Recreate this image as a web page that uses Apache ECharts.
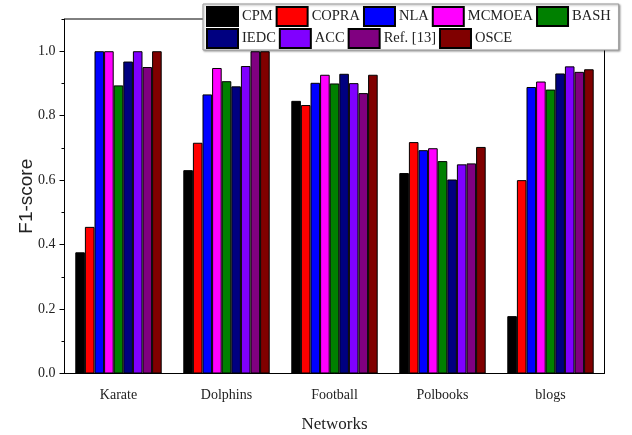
<!DOCTYPE html>
<html>
<head>
<meta charset="utf-8">
<script src="https://cdn.jsdelivr.net/npm/echarts@6/dist/echarts.min.js"></script>
<style>
  html, body { margin: 0; padding: 0; background: #fff; }
  #chart { width: 632px; height: 435px; }
</style>
</head>
<body>
<div id="chart"></div>
<script>
// F1-score of each community detection method on five benchmark networks
const networks = ['Karate', 'Dolphins', 'Football', 'Polbooks', 'blogs'];
const methods = ['CPM', 'COPRA', 'NLA', 'MCMOEA', 'BASH', 'IEDC', 'ACC', 'Ref. [13]', 'OSCE'];
const methodColors = ['#000000', '#ff0000', '#0000ff', '#ff00ff', '#008000', '#000080', '#8000ff', '#800080', '#800000'];

const cpm    = [0.376, 0.631, 0.846, 0.622, 0.178];
const copra  = [0.455, 0.716, 0.833, 0.718, 0.600];
const nla    = [1.000, 0.866, 0.902, 0.693, 0.889];
const mcmoea = [1.000, 0.948, 0.927, 0.699, 0.906];
const bash   = [0.894, 0.907, 0.900, 0.659, 0.881];
const iedc   = [0.968, 0.891, 0.930, 0.602, 0.931];
const acc    = [1.000, 0.954, 0.901, 0.649, 0.953];
const ref13  = [0.951, 1.000, 0.870, 0.652, 0.936];
const osce   = [1.000, 1.000, 0.927, 0.703, 0.944];

const methodValues = [cpm, copra, nla, mcmoea, bash, iedc, acc, ref13, osce];

const yTicks = [0, 0.2, 0.4, 0.6, 0.8, 1.0];

const serif = 'Liberation Serif';
const ink = '#222';

const chart = echarts.init(document.getElementById('chart'), null, { renderer: 'canvas' });

const series = methods.map((name, i) => ({
  name: name,
  type: 'bar',
  xAxisIndex: 0,
  yAxisIndex: 0,
  data: methodValues[i],
  barGap: '0%',
  barCategoryGap: '20%',
  itemStyle: { color: methodColors[i], borderColor: '#000', borderWidth: 1 },
  emphasis: { disabled: true }
}));

chart.setOption({
  animation: false,
  backgroundColor: '#fff',
  grid: {
    left: 64.5, right: 27.5, top: 19, bottom: 61.5,
    containLabel: false,
    outerBoundsMode: 'none',
    show: true, borderColor: '#000', borderWidth: 1
  },
  legend: {
    data: methods,
    left: 203, top: 4, width: 412,
    padding: [2, 6, 1, 3],
    itemWidth: 31, itemHeight: 19, itemGap: 1,
    icon: 'rect',
    backgroundColor: '#fff',
    borderColor: '#999', borderWidth: 1,
    shadowColor: 'rgba(0,0,0,0.35)', shadowBlur: 2, shadowOffsetX: 1, shadowOffsetY: 1,
    textStyle: { fontFamily: serif, fontSize: 14.5, lineHeight: 18, color: ink, padding: [0, 2, 0, -1] },
    selectedMode: false
  },
  xAxis: [
    {
      type: 'category',
      data: networks,
      position: 'bottom',
      name: 'Networks',
      nameLocation: 'middle',
      nameGap: 43,
      nameMoveOverlap: false,
      nameTextStyle: { fontFamily: serif, fontSize: 17, color: ink },
      axisLine: { lineStyle: { color: '#000', width: 1 } },
      axisTick: { alignWithLabel: true, length: 5, lineStyle: { color: '#000' } },
      axisLabel: { fontFamily: serif, fontSize: 14, color: ink, margin: 15 },
      splitLine: { show: false }
    },
    {
      // boundary ticks between the network groups
      type: 'category',
      data: networks,
      position: 'bottom',
      axisLine: { show: false },
      axisTick: { alignWithLabel: false, length: 3, lineStyle: { color: '#000' } },
      axisLabel: { show: false },
      splitLine: { show: false }
    }
  ],
  yAxis: [
    {
      type: 'value',
      min: 0, max: 1.1, interval: 0.2,
      name: 'F1-score',
      nameLocation: 'middle',
      nameGap: 28,
      nameMoveOverlap: false,
      nameTextStyle: { fontFamily: 'Liberation Sans', fontSize: 19, color: ink },
      axisLine: { show: true, lineStyle: { color: '#000', width: 1 } },
      axisTick: { show: true, length: 5, lineStyle: { color: '#000' } },
      axisLabel: {
        fontFamily: serif, fontSize: 14, color: ink, margin: 9,
        showMaxLabel: false,
        formatter: v => (yTicks.some(t => Math.abs(t - v) < 1e-6) ? v.toFixed(1) : '')
      },
      splitLine: { show: false }
    },
    {
      // minor ticks every 0.1
      type: 'value',
      min: 0, max: 1.1, interval: 0.1,
      position: 'left',
      axisLine: { show: false },
      axisTick: { show: true, length: 3, lineStyle: { color: '#000' } },
      axisLabel: { show: false },
      splitLine: { show: false }
    }
  ],
  series: series
});
</script>
</body>
</html>
